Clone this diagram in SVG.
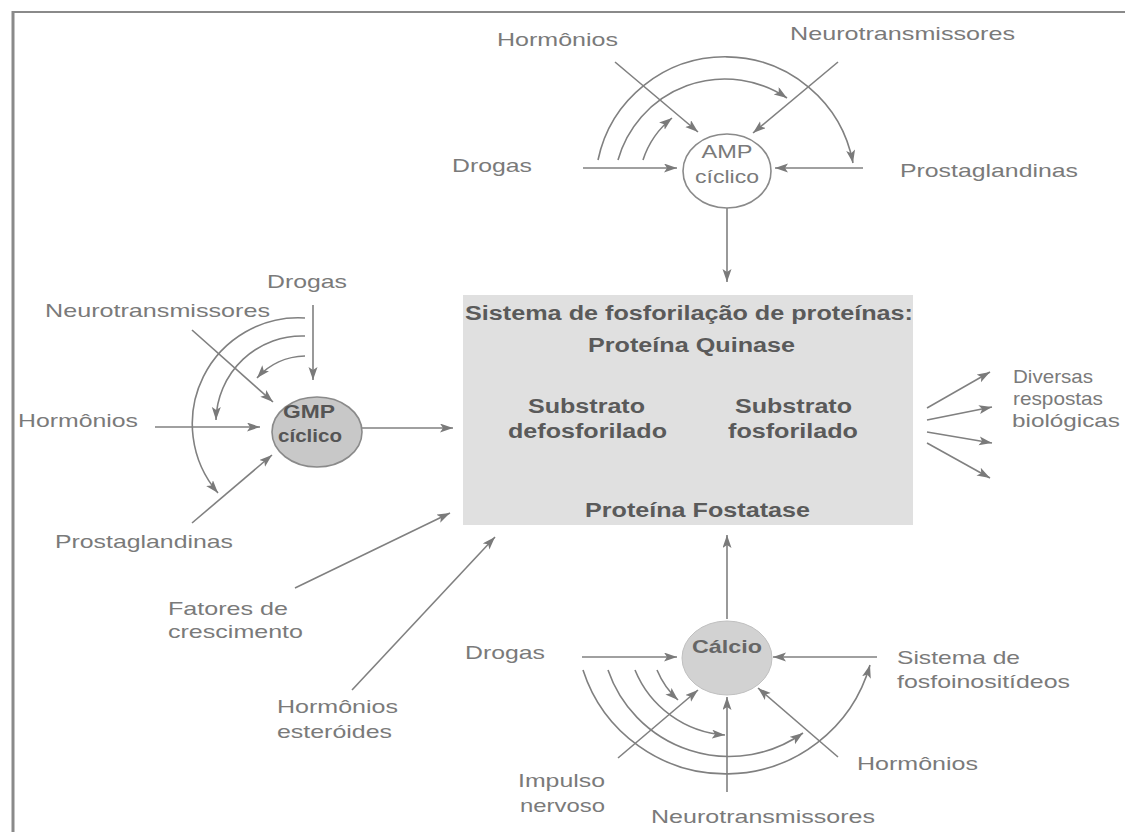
<svg xmlns="http://www.w3.org/2000/svg" width="1125" height="832" viewBox="0 0 1125 832">
<style>
.lbl{font-family:"Liberation Sans",Arial,sans-serif;font-size:19px;fill:#7a7a7a}
.bx{font-family:"Liberation Sans",Arial,sans-serif;font-size:20px;font-weight:bold;fill:#5a5a5a}
.nd{font-family:"Liberation Sans",Arial,sans-serif;font-size:19px}
.ln{fill:none;stroke:#808080;stroke-width:1.6}
.ar{fill:none;stroke:#808080;stroke-width:1.6;marker-end:url(#ah)}
</style>
<defs>
<marker id="ah" markerUnits="userSpaceOnUse" markerWidth="14" markerHeight="10" refX="13" refY="4.5" orient="auto">
<path d="M0,0 L13,4.5 L0,9 L3,4.5 z" fill="#7a7a7a"/>
</marker>
</defs>
<rect width="1125" height="832" fill="#ffffff"/>
<g id="frame">
<line x1="12" y1="12" x2="1125" y2="12" stroke="#8a8a8a" stroke-width="2"/>
<line x1="13" y1="11" x2="13" y2="832" stroke="#8a8a8a" stroke-width="3"/>
</g>

<g id="connectors">
<!-- AMP -->
<line class="ar" x1="583" y1="168" x2="677" y2="168"/>
<line class="ar" x1="863" y1="168" x2="775" y2="168"/>
<line class="ar" x1="615" y1="62" x2="698" y2="132"/>
<line class="ar" x1="838" y1="62" x2="753" y2="133"/>
<path class="ar" d="M598,160 A130,130 0 0 1 853,163"/>
<path class="ar" d="M618,160 A111,111 0 0 1 787,98"/>
<path class="ar" d="M643,160 A89,89 0 0 1 672,118"/>
<line class="ar" x1="727" y1="208" x2="727" y2="282"/>
<!-- GMP -->
<line class="ar" x1="313" y1="305" x2="313" y2="380"/>
<line class="ar" x1="192" y1="330" x2="273" y2="402"/>
<line class="ar" x1="155" y1="427" x2="260" y2="427"/>
<line class="ar" x1="192" y1="523" x2="272" y2="455"/>
<line class="ar" x1="362" y1="428" x2="453" y2="428"/>
<path class="ar" d="M305,318 A106,106 0 0 0 218,493"/>
<path class="ar" d="M305,336 A86,86 0 0 0 216,420"/>
<path class="ar" d="M305,356 A66,66 0 0 0 257,378"/>
<!-- other inputs -->
<line class="ar" x1="295" y1="588" x2="450" y2="513"/>
<line class="ar" x1="352" y1="690" x2="495" y2="537"/>
<!-- box internal -->
<path class="ar" d="M590,392 Q695,342 797,395"/>
<path class="ar" d="M800,460 Q695,515 592,457"/>
<!-- outputs -->
<line class="ar" x1="927" y1="408" x2="990" y2="372"/>
<line class="ar" x1="927" y1="420" x2="992" y2="407"/>
<line class="ar" x1="927" y1="432" x2="992" y2="443"/>
<line class="ar" x1="927" y1="443" x2="990" y2="478"/>
<!-- Calcio -->
<line class="ar" x1="727" y1="619" x2="727" y2="535"/>
<line class="ar" x1="582" y1="657" x2="677" y2="657"/>
<line class="ar" x1="877" y1="657" x2="773" y2="657"/>
<line class="ar" x1="618" y1="758" x2="698" y2="690"/>
<line class="ar" x1="727" y1="792" x2="727" y2="697"/>
<line class="ar" x1="838" y1="757" x2="758" y2="688"/>
<path class="ar" d="M583,670 A150,150 0 0 0 870,665"/>
<path class="ar" d="M608,670 A128,128 0 0 0 803,733"/>
<path class="ar" d="M635,670 A105,105 0 0 0 725,735"/>
<path class="ar" d="M657,670 A85,85 0 0 0 678,700"/>
</g>

<g id="box">
<rect x="463" y="295" width="450" height="230" fill="#e0e0e0"/>
<text class="bx" x="465" y="320" font-size="19" textLength="448" lengthAdjust="spacingAndGlyphs">Sistema de fosforilação de proteínas:</text>
<text class="bx" x="588" y="352" textLength="207" lengthAdjust="spacingAndGlyphs">Proteína Quinase</text>
<text class="bx" x="528" y="413" textLength="117" lengthAdjust="spacingAndGlyphs">Substrato</text>
<text class="bx" x="508" y="438" textLength="159" lengthAdjust="spacingAndGlyphs">defosforilado</text>
<text class="bx" x="735" y="413" textLength="117" lengthAdjust="spacingAndGlyphs">Substrato</text>
<text class="bx" x="728" y="438" textLength="130" lengthAdjust="spacingAndGlyphs">fosforilado</text>
<text class="bx" x="585" y="517" textLength="225" lengthAdjust="spacingAndGlyphs">Proteína Fostatase</text>
</g>

<g id="amp">
<ellipse cx="727" cy="171" rx="44" ry="37" fill="#ffffff" stroke="#8a8a8a" stroke-width="1.6"/>
<text class="nd" x="727" y="158" text-anchor="middle" fill="#7a7a7a" textLength="51" lengthAdjust="spacingAndGlyphs">AMP</text>
<text class="nd" x="727" y="183" text-anchor="middle" fill="#7a7a7a" textLength="64" lengthAdjust="spacingAndGlyphs">cíclico</text>
</g>

<g id="gmp">
<ellipse cx="317" cy="432" rx="45" ry="35" fill="#c8c8c8" stroke="#8a8a8a" stroke-width="1.6"/>
<text class="nd" x="309" y="418" text-anchor="middle" fill="#555" font-weight="bold" textLength="52" lengthAdjust="spacingAndGlyphs">GMP</text>
<text class="nd" x="310" y="442" text-anchor="middle" fill="#555" font-weight="bold" textLength="64" lengthAdjust="spacingAndGlyphs">cíclico</text>
</g>

<g id="calcio">
<ellipse cx="727" cy="658" rx="45" ry="37" fill="#d2d2d2" stroke="#c0c0c0" stroke-width="1"/>
<text class="nd" x="727" y="653" text-anchor="middle" fill="#666" font-weight="bold" textLength="70" lengthAdjust="spacingAndGlyphs">Cálcio</text>
</g>

<g id="labels">
<text class="lbl" x="497" y="46" textLength="121" lengthAdjust="spacingAndGlyphs">Hormônios</text>
<text class="lbl" x="790" y="40" textLength="225" lengthAdjust="spacingAndGlyphs">Neurotransmissores</text>
<text class="lbl" x="452" y="172" textLength="80" lengthAdjust="spacingAndGlyphs">Drogas</text>
<text class="lbl" x="900" y="177" textLength="178" lengthAdjust="spacingAndGlyphs">Prostaglandinas</text>

<text class="lbl" x="267" y="288" textLength="80" lengthAdjust="spacingAndGlyphs">Drogas</text>
<text class="lbl" x="45" y="317" textLength="225" lengthAdjust="spacingAndGlyphs">Neurotransmissores</text>
<text class="lbl" x="18" y="427" textLength="120" lengthAdjust="spacingAndGlyphs">Hormônios</text>
<text class="lbl" x="55" y="548" textLength="178" lengthAdjust="spacingAndGlyphs">Prostaglandinas</text>

<text class="lbl" x="168" y="615" textLength="120" lengthAdjust="spacingAndGlyphs">Fatores de</text>
<text class="lbl" x="168" y="638" textLength="135" lengthAdjust="spacingAndGlyphs">crescimento</text>
<text class="lbl" x="277" y="713" textLength="121" lengthAdjust="spacingAndGlyphs">Hormônios</text>
<text class="lbl" x="277" y="738" textLength="115" lengthAdjust="spacingAndGlyphs">esteróides</text>

<text class="lbl" x="465" y="659" textLength="80" lengthAdjust="spacingAndGlyphs">Drogas</text>
<text class="lbl" x="897" y="664" textLength="123" lengthAdjust="spacingAndGlyphs">Sistema de</text>
<text class="lbl" x="897" y="688" textLength="173" lengthAdjust="spacingAndGlyphs">fosfoinositídeos</text>
<text class="lbl" x="857" y="770" textLength="121" lengthAdjust="spacingAndGlyphs">Hormônios</text>
<text class="lbl" x="518" y="787" textLength="87" lengthAdjust="spacingAndGlyphs">Impulso</text>
<text class="lbl" x="520" y="812" textLength="85" lengthAdjust="spacingAndGlyphs">nervoso</text>
<text class="lbl" x="651" y="823" textLength="224" lengthAdjust="spacingAndGlyphs">Neurotransmissores</text>

<text class="lbl" x="1013" y="383" textLength="80" lengthAdjust="spacingAndGlyphs">Diversas</text>
<text class="lbl" x="1013" y="405" textLength="90" lengthAdjust="spacingAndGlyphs">respostas</text>
<text class="lbl" x="1012" y="427" textLength="108" lengthAdjust="spacingAndGlyphs">biológicas</text>
</g>
</svg>
